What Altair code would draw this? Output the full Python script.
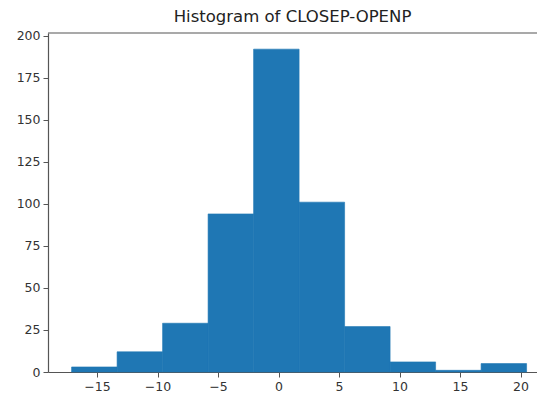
import altair as alt
import pandas as pd

bin_start = [-17.1, -13.34, -9.58, -5.82, -2.06, 1.70, 5.46, 9.22, 12.98, 16.74]
bin_end = [-13.34, -9.58, -5.82, -2.06, 1.70, 5.46, 9.22, 12.98, 16.74, 20.5]
counts = [3, 12, 29, 94, 192, 101, 27, 6, 1, 5]
x_ticks = [-15, -10, -5, 0, 5, 10, 15, 20]
y_ticks = [0, 25, 50, 75, 100, 125, 150, 175, 200]

df = pd.DataFrame({"start": bin_start, "end": bin_end, "count": counts})

W, H = 489, 339
spine = "#555555"

bars = alt.Chart(df).mark_rect(color="#1f77b4", stroke="#1f77b4", strokeWidth=0.6).encode(
    x=alt.X("start:Q",
            scale=alt.Scale(domain=[-19.05, 21.36], nice=False, zero=False),
            axis=alt.Axis(values=x_ticks, title=None, format="d")),
    x2="end:Q",
    y=alt.Y("count:Q",
            scale=alt.Scale(domain=[0, 201.6], nice=False),
            axis=alt.Axis(values=y_ticks, title=None)),
    y2=alt.datum(0),
)

top = alt.Chart(pd.DataFrame({"a": [0]})).mark_rule(color=spine, strokeWidth=1.2).encode(
    x=alt.value(0), x2=alt.value(W), y=alt.value(0)
)

chart = alt.layer(bars, top).properties(
    width=W,
    height=H,
    autosize=alt.AutoSizeParams(type="none"),
    padding={"left": 40, "top": 25, "right": 0, "bottom": 22},
    title=alt.TitleParams(
        "Histogram of CLOSEP-OPENP",
        font="DejaVu Sans",
        fontSize=16.5,
        fontWeight="normal",
        color="#222222",
        anchor="middle",
        dx=0,
        offset=4,
    ),
).configure_view(stroke=None).configure_axis(
    grid=False,
    domainColor=spine,
    domainWidth=1.2,
    tickColor=spine,
    tickWidth=1,
    tickSize=5,
    labelFont="DejaVu Sans",
    labelFontSize=12.5,
    labelColor="#333333",
    labelPadding=3,
)

chart.save("out.html", embed_options={"renderer": "svg", "actions": False})
